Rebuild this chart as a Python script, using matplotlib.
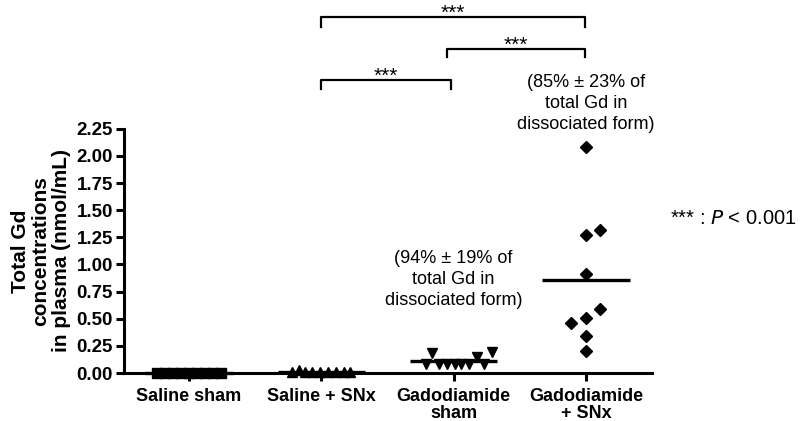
import matplotlib
matplotlib.use("Agg")
import matplotlib.pyplot as plt
import numpy as np

plt.rcParams['font.family'] = ['Liberation Sans', 'DejaVu Sans']

categories = ["Saline sham", "Saline + SNx", "Gadodiamide\nsham", "Gadodiamide\n+ SNx"]
saline_sham = [0.0, 0.0, 0.0, 0.0, 0.0, 0.0, 0.0, 0.0, 0.0]
saline_snx = [0.01, 0.03, 0.01, 0.01, 0.01, 0.01, 0.01, 0.01, 0.01]
gado_sham = [0.18, 0.19, 0.15, 0.08, 0.08, 0.08, 0.08, 0.08, 0.08, 0.08]
gado_snx = [2.08, 1.27, 1.32, 0.91, 0.59, 0.51, 0.46, 0.34, 0.20]
yticks = [0.00, 0.25, 0.50, 0.75, 1.00, 1.25, 1.50, 1.75, 2.00, 2.25]

# horizontal jitter (category units) as seen in reference
jit_sham = np.linspace(-0.24, 0.24, len(saline_sham))
jit_snx = [-0.22, -0.17, -0.12, -0.07, -0.01, 0.05, 0.11, 0.17, 0.22]
jit_gsham = [-0.16, 0.29, 0.18, -0.21, -0.11, -0.05, 0.01, 0.06, 0.12, 0.23]
jit_gsnx = [0.0, 0.0, 0.11, 0.0, 0.11, 0.0, -0.11, 0.0, 0.0]

fig = plt.figure(figsize=(8, 4.21), dpi=100)
ax = fig.add_axes([0.155, 0.114, 0.66, 0.58])

groups = [(saline_sham, jit_sham, 's'), (saline_snx, jit_snx, '^'),
          (gado_sham, jit_gsham, 'v'), (gado_snx, jit_gsnx, 'D')]
for i, (vals, jit, mk) in enumerate(groups):
    xs = i + np.array(jit)
    ms = 7 if mk != 'D' else 5.8
    ax.plot(xs, vals, linestyle='none', marker=mk, color='black', markersize=ms,
            clip_on=False, zorder=3)
    m = np.mean(vals)
    ax.plot([i - 0.33, i + 0.33], [m, m], color='black', lw=2.4, zorder=4,
            solid_capstyle='butt', clip_on=False)

ax.set_xlim(-0.49, 3.5)
ax.set_ylim(0, 2.25)
ax.set_xticks(range(4))
ax.set_xticklabels(categories, fontsize=13, fontweight='bold', linespacing=0.95)
ax.set_yticks(yticks)
ax.set_yticklabels([f"{t:.2f}" for t in yticks], fontsize=13.5, fontweight='bold')
for s in ['top', 'right']:
    ax.spines[s].set_visible(False)
for s in ['left', 'bottom']:
    ax.spines[s].set_linewidth(2.2)
ax.tick_params(axis='both', width=2.2, length=6, pad=2)
ax.tick_params(axis='x', pad=5)
ax.set_ylabel("Total Gd\nconcentrations\nin plasma (nmol/mL)", fontsize=15,
              fontweight='bold', linespacing=1.1, labelpad=4)

# significance brackets
brackets = [(1.0, 2.99, 3.28, 3.19), (1.95, 2.99, 2.99, 2.91), (1.0, 1.98, 2.70, 2.62)]
for x0, x1, ytop, ybot in brackets:
    ax.plot([x0, x0, x1, x1], [ybot, ytop, ytop, ybot], color='black', lw=1.6,
            clip_on=False)
    ax.text((x0 + x1) / 2, ytop - 0.02, "***", ha='center', va='baseline',
            fontsize=15)

ax.text(3.0, 2.48, "(85% \u00b1 23% of\ntotal Gd in\ndissociated form)", ha='center',
        va='center', fontsize=13, linespacing=1.3)
ax.text(2.0, 0.86, "(94% \u00b1 19% of\ntotal Gd in\ndissociated form)", ha='center',
        va='center', fontsize=13, linespacing=1.3)

fig.text(0.838, 0.482, "*** : $\\it{P}$ < 0.001", fontsize=14.5, ha='left', va='center')

fig.savefig("out.png", dpi=100)
